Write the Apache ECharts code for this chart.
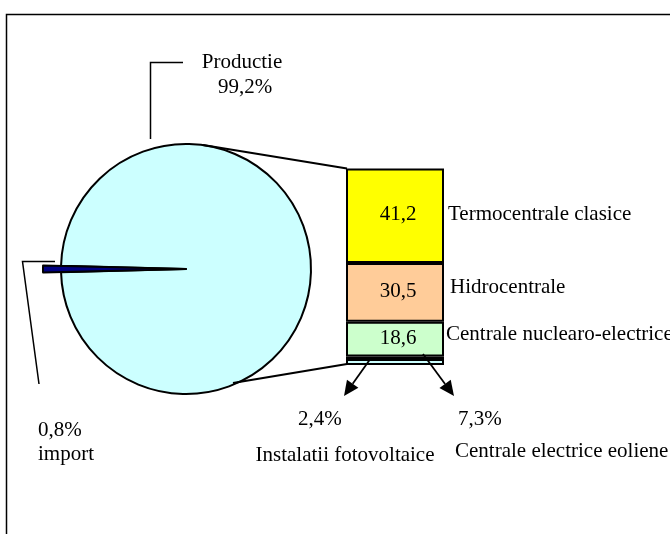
<!DOCTYPE html>
<html>
<head>
<meta charset="utf-8">
<script src="https://cdn.jsdelivr.net/npm/echarts@6/dist/echarts.min.js"></script>
<style>
  html, body { margin: 0; padding: 0; background: #fff; }
  #main { width: 670px; height: 534px; }
</style>
</head>
<body>
<div id="main"></div>
<script>
// pie: productie / import (%)
var pieNames = ['Productie', 'import'];
var pieValues = [99.2, 0.8];
var pieLabels = ['99,2%', '0,8%'];

// bar segments, top to bottom (share of the bar as drawn)
var barNames = ['Termocentrale clasice', 'Hidrocentrale', 'Centrale nuclearo-electrice', 'Instalatii fotovoltaice', 'Centrale electrice eoliene'];
var barShares = [48.1, 29.9, 17.7, 1.3, 3.0];
var barLabels = ['41,2', '30,5', '18,6', '2,4%', '7,3%'];
var barColors = ['#FFFF00', '#FFCC99', '#CCFFCC', '#CCFFFF', '#CCFFFF'];

var FAMILY = '"Liberation Serif", "Times New Roman", serif';
var FONT = '21px ' + FAMILY;
var cx = 186, cy = 269;

var myChart = echarts.init(document.getElementById('main'), null, { renderer: 'canvas' });

var series = [];
// main pie, import slice left empty here
series.push({
  type: 'pie',
  center: [cx, cy],
  radius: [0, 125],
  startAngle: 181.44,
  clockwise: true,
  silent: true,
  animation: false,
  label: { show: false },
  labelLine: { show: false },
  data: [
    { name: pieNames[1], value: pieValues[1], itemStyle: { color: 'rgba(0,0,0,0)', borderWidth: 0 } },
    { name: pieNames[0], value: pieValues[0], itemStyle: { color: '#CCFFFF', borderColor: '#000', borderWidth: 2 } }
  ]
});
// import slice pulled out a bit longer
series.push({
  type: 'pie',
  center: [cx, cy],
  radius: [0, 143],
  startAngle: 181.44,
  clockwise: true,
  silent: true,
  animation: false,
  label: { show: false },
  labelLine: { show: false },
  data: [
    { name: pieNames[1], value: pieValues[1], itemStyle: { color: '#000080', borderColor: '#000', borderWidth: 2 } },
    { name: pieNames[0], value: pieValues[0], itemStyle: { color: 'rgba(0,0,0,0)', borderWidth: 0 } }
  ]
});

// stacked bar
for (var i = 0; i < barNames.length; i++) {
  series.push({
    type: 'bar',
    name: barNames[i],
    stack: 'total',
    barWidth: '100%',
    silent: true,
    animation: false,
    itemStyle: { color: barColors[i], borderColor: '#000', borderWidth: 2 },
    label: {
      show: i < 3,
      position: 'inside',
      offset: [3, -1],
      formatter: barLabels[i],
      fontFamily: FAMILY,
      fontSize: 21,
      color: '#000'
    },
    data: [barShares[i]]
  });
}

function txt(s, x, y, align) {
  return {
    type: 'text', silent: true, z: 10,
    style: { text: s, x: x, y: y, font: FONT, fill: '#000', align: align || 'left', verticalAlign: 'middle' }
  };
}
function ln(pts, w) {
  return {
    type: 'polyline', silent: true, z: 5,
    shape: { points: pts },
    style: { stroke: '#000', lineWidth: w || 1.5, fill: null }
  };
}
function arrow(x1, y1, x2, y2) {
  var dx = x2 - x1, dy = y2 - y1;
  var len = Math.sqrt(dx * dx + dy * dy);
  var ux = dx / len, uy = dy / len;
  var bx = x2 - ux * 15, by = y2 - uy * 15;
  var px = -uy * 7, py = ux * 7;
  return [
    ln([[x1, y1], [bx, by]], 1.8),
    {
      type: 'polygon', silent: true, z: 5,
      shape: { points: [[x2, y2], [bx + px, by + py], [bx - px, by - py]] },
      style: { fill: '#000' }
    }
  ];
}

var graphic = [
  // frame
  ln([[6.5, 534], [6.5, 14.5], [670, 14.5]], 1.5),
  // productie leader
  ln([[150.5, 139], [150.5, 62.5], [183, 62.5]], 1.5),
  // import leader
  ln([[55, 261.5], [22.5, 261.5], [39, 384]], 1.5),
  // pie to bar connectors
  ln([[203, 145], [347, 168.5]], 2),
  ln([[233, 383], [347, 364]], 2),
  txt(pieNames[0], 242, 62, 'center'),
  txt(pieLabels[0], 245, 87, 'center'),
  txt(pieLabels[1], 38, 430),
  txt(pieNames[1], 38, 454),
  txt(barNames[0], 448, 214),
  txt(barNames[1], 450, 287),
  txt(barNames[2], 446, 334),
  txt(barLabels[3], 298, 419),
  txt(barLabels[4], 458, 419),
  txt(barNames[3], 345, 455, 'center'),
  txt(barNames[4], 455, 451)
];
graphic = graphic.concat(arrow(371, 358, 344, 396), arrow(423, 354, 454, 396));

var option = {
  backgroundColor: '#fff',
  animation: false,
  grid: { left: 346, top: 168.5, width: 98, height: 196.5 },
  xAxis: { type: 'category', data: [''], show: false },
  yAxis: { type: 'value', min: 0, max: 100, inverse: true, show: false },
  graphic: graphic,
  series: series
};
myChart.setOption(option);
</script>
</body>
</html>
